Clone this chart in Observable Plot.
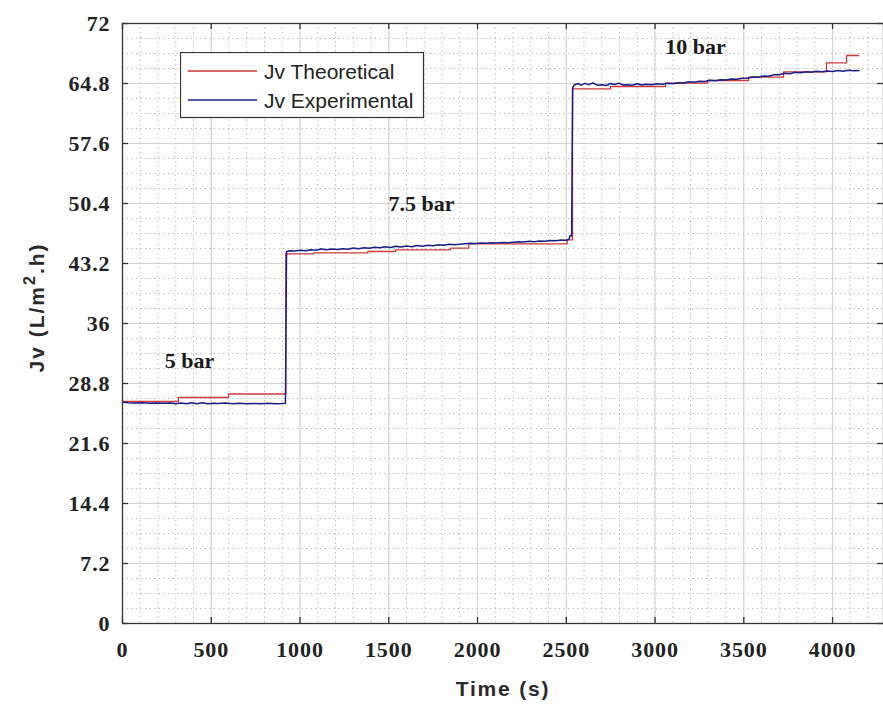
<!DOCTYPE html>
<html><head><meta charset="utf-8">
<script src="https://cdn.jsdelivr.net/npm/d3@7"></script>
<script src="https://cdn.jsdelivr.net/npm/@observablehq/plot@0.6"></script>
<style>
body{margin:0;background:#fff;}
#wrap{position:relative;width:883px;height:705px;overflow:hidden;}
#legend{position:absolute;left:180px;top:52px;}
</style></head>
<body><div id="wrap"></div>
<script>
// ---- data ----
const theoT = [0, 315, 597, 920, 1078, 1382, 1538, 1848, 1951, 2505, 2535, 2749, 3059, 3296, 3527, 3724, 3966, 4079, 4147];
const theoV = [26.64, 27.12, 27.54, 44.36, 44.48, 44.64, 44.84, 45.04, 45.56, 46.04, 64.16, 64.44, 64.84, 65.16, 65.56, 66.2, 67.28, 68.16, 68.16];

const expT = [0,30,70,110,150,190,230,270,300,330,360,390,420,450,480,510,540,580,620,660,700,740,780,820,860,900,918,
  924,940,970,1000,1030,1060,1090,1120,1150,1180,1210,1240,1270,1300,1330,1360,1390,1420,1450,1480,1510,1540,1570,1600,1630,1660,1690,1720,1750,1780,1810,1840,1870,1900,1930,1960,1990,2020,2050,2080,2110,2140,2170,2200,2230,2260,2290,2320,2350,2380,2410,2440,2470,2500,2515,2522,2530,
  2536,2545,2565,2585,2605,2625,2650,2675,2700,2725,2750,2770,2795,2820,2845,2870,2900,2925,2950,2980,3010,3040,3070,3100,3130,3160,3190,3220,3250,3280,3310,3340,3370,3400,3430,3460,3490,3520,3550,3580,3610,3640,3670,3700,3730,3760,3790,3820,3850,3880,3910,3940,3970,4000,4030,4060,4090,4120,4150];
const expV = [26.58,26.5,26.46,26.5,26.44,26.46,26.42,26.45,26.38,26.46,26.36,26.5,26.38,26.48,26.36,26.44,26.4,26.46,26.38,26.42,26.36,26.4,26.38,26.42,26.38,26.4,26.42,
  44.62,44.72,44.7,44.78,44.74,44.84,44.8,44.95,44.86,44.94,44.88,44.98,44.92,45.06,44.98,45.1,45.02,45.16,45.08,45.2,45.12,45.26,45.18,45.3,45.22,45.36,45.28,45.4,45.34,45.44,45.38,45.5,45.46,45.52,45.58,45.62,45.6,45.66,45.62,45.7,45.66,45.72,45.7,45.76,45.8,45.78,45.86,45.82,45.9,45.86,45.96,45.92,46.02,46.0,46.1,46.55,46.5,
  64.3,64.62,64.8,64.6,64.82,64.66,64.86,64.6,64.66,64.56,64.8,64.68,64.84,64.62,64.66,64.58,64.76,64.62,64.7,64.64,64.76,64.7,64.82,64.76,64.9,64.86,65.0,64.96,65.08,65.04,65.18,65.12,65.26,65.22,65.34,65.3,65.44,65.42,65.58,65.54,65.7,65.66,65.86,65.84,66.02,65.98,66.14,66.1,66.2,66.14,66.26,66.2,66.3,66.25,66.36,66.28,66.38,66.32,66.36];

const xTicks = [0, 500, 1000, 1500, 2000, 2500, 3000, 3500, 4000];
const yTicks = [0, 7.2, 14.4, 21.6, 28.8, 36, 43.2, 50.4, 57.6, 64.8, 72];
const xMinorStep = 100;
const yMinorStep = 1.8;

const barText = ["5 bar", "7.5 bar", "10 bar"];
const barT = [377, 1685, 3228];
const barV = [31.56, 50.4, 69.2];

const seriesNames = ["Jv Theoretical", "Jv Experimental"];
const seriesColors = ["#cc3a3a", "#1c1c88"];
const xLabel = "Time (s)";
const yLabelParts = ["Jv (L/m", "2", ".h)"];

// ---- tables ----
const theo = theoT.map((t, i) => ({t, v: theoV[i]}));
const expt = expT.map((t, i) => ({t, v: expV[i]}));
const bars = barText.map((label, i) => ({label, t: barT[i], v: barV[i]}));
const xMinor = d3.range(0, 4300, xMinorStep);
const yMinor = d3.range(0, 72.001, yMinorStep);

const W = 883, H = 705, ML = 122, MR = 0, MT = 23, MB = 82;
const PW = W - ML - MR, PH = H - MT - MB;
const serif = "'Liberation Serif', 'Times New Roman', serif";
const sans = "'Liberation Sans', Arial, sans-serif";

const chart = Plot.plot({
  width: W, height: H,
  marginLeft: ML, marginRight: MR, marginTop: MT, marginBottom: MB,
  style: {fontFamily: serif, background: "#fff", color: "#222", overflow: "visible"},
  x: {domain: [0, 4287], ticks: xTicks},
  y: {domain: [0, 72], ticks: yTicks},
  marks: [
    Plot.ruleX(xMinor, {x: d => d, stroke: "#b0b0b0", strokeDasharray: "1.2,3.4", strokeWidth: 1}),
    Plot.ruleY(yMinor, {y: d => d, stroke: "#b0b0b0", strokeDasharray: "1.2,3.4", strokeWidth: 1}),
    Plot.ruleX(xTicks, {x: d => d, stroke: "#d2d2d2", strokeWidth: 1}),
    Plot.ruleY(yTicks, {y: d => d, stroke: "#d2d2d2", strokeWidth: 1}),
    Plot.axisX({ticks: xTicks, tickSize: 0, tickPadding: 18, label: null, fontSize: 22, fontWeight: "bold", fontFamily: serif, tickFormat: d => String(d)}),
    Plot.axisY({ticks: yTicks, tickSize: 0, tickPadding: 12, label: null, fontSize: 22, fontWeight: "bold", fontFamily: serif,
      tickFormat: d => String(+d.toFixed(1))}),
    Plot.line(theo, {x: "t", y: "v", curve: "step-after", stroke: seriesColors[0], strokeWidth: 1.3}),
    Plot.line(expt, {x: "t", y: "v", stroke: seriesColors[1], strokeWidth: 1.5}),
    Plot.frame({stroke: "#333", strokeWidth: 1.3}),
    Plot.ruleX(xTicks, {x: d => d, insetTop: PH - 6, stroke: "#333", strokeWidth: 1.3}),
    Plot.ruleX(xTicks, {x: d => d, insetBottom: PH - 6, stroke: "#333", strokeWidth: 1.3}),
    Plot.ruleY(yTicks, {y: d => d, insetRight: PW - 6, stroke: "#333", strokeWidth: 1.3}),
    Plot.ruleY(yTicks, {y: d => d, insetLeft: PW - 6, stroke: "#333", strokeWidth: 1.3}),
    Plot.text(bars, {x: "t", y: "v", text: "label", fontSize: 22, fontWeight: "bold", fontFamily: serif, fill: "#1a1a1a"}),
    Plot.text([xLabel], {frameAnchor: "bottom", lineAnchor: "bottom", dy: 72, fontSize: 21, fontWeight: "bold", fontFamily: sans, fill: "#2a2a2a"}),
    Plot.text([yLabelParts.join("")], {frameAnchor: "left", textAnchor: "middle", lineAnchor: "bottom", rotate: -90, dx: -79, dy: -16, fontSize: 21, fontWeight: "bold", fontFamily: sans, fill: "#2a2a2a"})
  ]
});
const sel = d3.select(chart);
sel.selectAll("text").filter(function(){ return this.textContent === xLabel; }).style("letter-spacing", "1.8px");
sel.selectAll("text").filter(function(){ return this.textContent === yLabelParts.join(""); })
  .each(function(){
    const t = d3.select(this).style("letter-spacing", "2px");
    t.text(null);
    t.append("tspan").text(yLabelParts[0]);
    t.append("tspan").attr("dy", -9).attr("font-size", 16).text(yLabelParts[1]);
    t.append("tspan").attr("dy", 9).text(yLabelParts[2]);
  });
sel.selectAll('g[aria-label="x-axis tick label"] text, g[aria-label="y-axis tick label"] text').style("letter-spacing", "0.9px");
const wrap = document.getElementById("wrap");
wrap.appendChild(chart);

// legend
const lg = d3.select(wrap).append("svg").attr("id", "legend").attr("width", 245).attr("height", 68);
lg.append("rect").attr("x", 0.5).attr("y", 0.5).attr("width", 243).attr("height", 65).attr("fill", "#fff").attr("stroke", "#333").attr("stroke-width", 1.2);
seriesNames.forEach((name, i) => {
  const y = 19 + i * 29;
  lg.append("line").attr("x1", 8).attr("x2", 77).attr("y1", y).attr("y2", y).attr("stroke", seriesColors[i]).attr("stroke-width", 1.3);
  lg.append("text").attr("x", 84).attr("y", y + 7.5).attr("font-family", sans).attr("font-size", 21).attr("fill", "#222").text(name);
});
</script>
</body></html>
